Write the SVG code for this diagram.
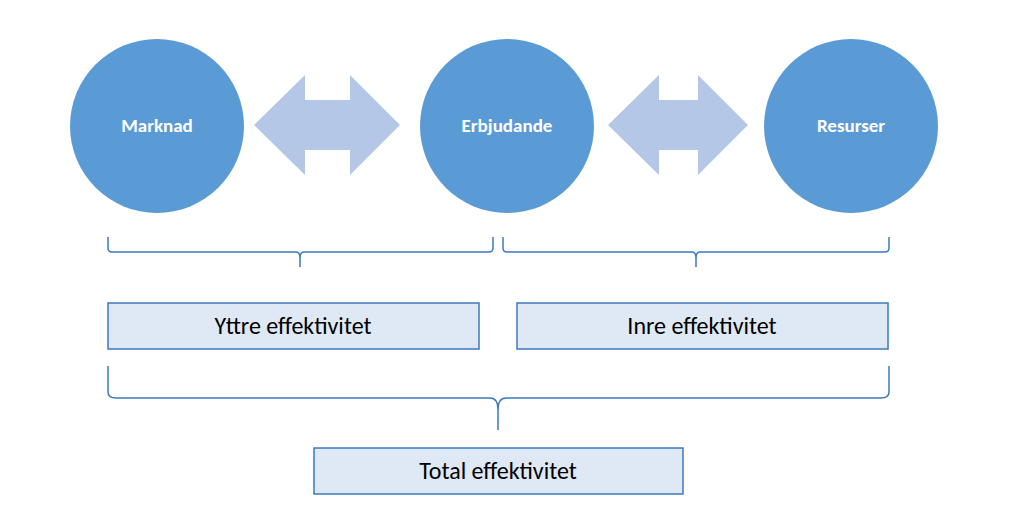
<svg xmlns="http://www.w3.org/2000/svg" width="1023" height="532" viewBox="0 0 1023 532">
<style>
.c{fill:#5b9bd5}
.ct{font-family:Calibri,"Carlito","Liberation Sans",sans-serif;font-weight:bold;font-size:19px;fill:#fff;text-anchor:middle}
.a{fill:#b4c7e7}
.b{fill:#dfe9f6;stroke:#3d79bf;stroke-width:1.5}
.bt{font-family:Calibri,"Carlito","Liberation Sans",sans-serif;font-size:24px;fill:#000;text-anchor:middle}
.br{fill:none;stroke:#3d79bf;stroke-width:1.5}
</style>
<rect width="1023" height="532" fill="#fff"/>
<g id="marknad"><circle class="c" cx="157" cy="126" r="87"/><text class="ct" x="157" y="132">Marknad</text></g>
<g id="erbjudande"><circle class="c" cx="507" cy="126" r="87"/><text class="ct" x="507" y="132">Erbjudande</text></g>
<g id="resurser"><circle class="c" cx="851" cy="126" r="87"/><text class="ct" x="851" y="132">Resurser</text></g>
<g id="connectors">
<polygon class="a" points="254,125 305,75 305,100 350,100 350,75 400,125 350,175 350,150 305,150 305,175"/>
<polygon class="a" points="608,125 659,75 659,100 698,100 698,75 748,125 698,175 698,150 659,150 659,175"/>
<path class="br" d="M108,237 V248 Q108,252 112,252 H296 Q300,252 300,258 V267 M300,267 V258 Q300,252 304,252 H489 Q493,252 493,248 V237"/>
<path class="br" d="M503,237 V248 Q503,252 507,252 H692 Q696,252 696,258 V267 M696,258 Q696,252 700,252 H885 Q889,252 889,248 V237"/>
<path class="br" d="M108,366 V392 Q108,398 116,398 H490 Q498,398 498,410 V430 M498,410 Q498,398 506,398 H881 Q889,398 889,392 V366"/>
</g>
<g id="yttre"><rect class="b" x="108" y="303" width="371" height="46"/><text class="bt" x="293" y="334">Yttre effektivitet</text></g>
<g id="inre"><rect class="b" x="517" y="303" width="371" height="46"/><text class="bt" x="702" y="334">Inre effektivitet</text></g>
<g id="total"><rect class="b" x="314" y="448" width="369" height="46"/><text class="bt" x="498" y="479">Total effektivitet</text></g>
</svg>
